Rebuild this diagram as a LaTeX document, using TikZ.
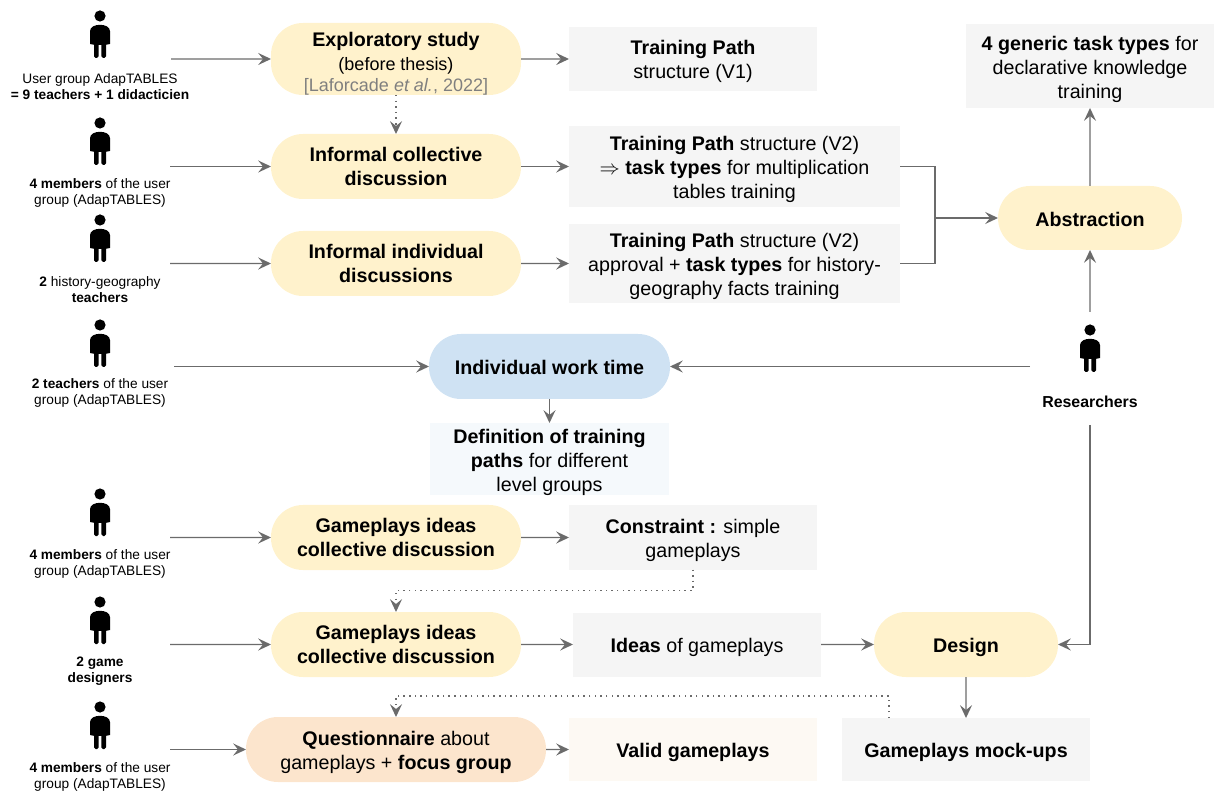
\documentclass[tikz,border=0pt]{standalone}
\usepackage{fontspec}
\setmainfont{Liberation Sans}
\usepackage{tikz}
\usetikzlibrary{arrows.meta, positioning, calc}
\definecolor{pillyellow}{HTML}{FFF2CC}
\definecolor{pillblue}{HTML}{CFE2F3}
\definecolor{pillorange}{HTML}{FCE5CD}
\definecolor{boxgrey}{HTML}{F5F5F5}
\definecolor{boxblue}{HTML}{F5F9FC}
\definecolor{boxorange}{HTML}{FDF9F3}
\definecolor{linegrey}{HTML}{6B6B6B}
\definecolor{citegrey}{HTML}{7F7F7F}
\newcommand{\lift}{\rule{0pt}{14.7pt}}
\tikzstyle{pill} = [minimum width=6.25cm, minimum height=1.625cm, anchor=south west, align=center, rounded corners=0.8cm, fill=pillyellow, inner xsep=0pt, inner ysep=-12pt, outer sep=0pt, font=\fontsize{14}{17}\selectfont, execute at begin node={\rule{0pt}{11.6pt}}]
\tikzstyle{result} = [minimum width=6.2cm, minimum height=1.6cm, anchor=south west, align=center, fill=boxgrey, inner xsep=0pt, inner ysep=-12pt, outer sep=0pt, font=\fontsize{14}{17}\selectfont, execute at begin node={\rule{0pt}{14.4pt}}]
\tikzstyle{who} = [align=center, inner sep=0pt, outer sep=0pt, font=\fontsize{9.75}{11.4}\selectfont]
\tikzstyle{link} = [-{Stealth[length=3.2mm, width=3mm, inset=1.2mm]}, linegrey]
\tikzstyle{hint} = [link, dash pattern=on 1pt off 3pt]
\tikzset{pics/person/.style={code={
	\fill (0, 0) circle (0.14);
	\fill (-0.25, -0.7) -- (-0.25, -0.38) .. controls (-0.25, -0.27) and (-0.12, -0.22) .. (0, -0.22) .. controls (0.12, -0.22) and (0.25, -0.27) .. (0.25, -0.38) -- (0.25, -0.7) -- (0.15, -0.72) -- (-0.15, -0.72) -- cycle;
	\fill[rounded corners=0.04cm] (-0.15, -0.6) rectangle (-0.035, -1.05);
	\fill[rounded corners=0.04cm] (0.035, -0.6) rectangle (0.15, -1.05);
}}}

\begin{document}
\begin{tikzpicture}[line width=1pt]
		\useasboundingbox (0, 0) rectangle (30.35, 19.8);

		\coordinate (explor)  at (6.775,  17.425);
		\coordinate (inform1) at (6.775,  14.825);
		\coordinate (inform2) at (6.775,  12.4);
		\coordinate (worktim) at (10.725, 9.825);
		\coordinate (gamepl1) at (6.775,  5.55);
		\coordinate (gamepl2) at (6.775,  2.875);
		\coordinate (questio) at (6.15,   0.25);
		\coordinate (abstrac) at (24.95,  13.55);
		\coordinate (designs) at (21.85,  2.875);
		\coordinate (path1)   at (14.225, 17.525);
		\coordinate (path2)   at (14.225, 14.625);
		\coordinate (path3)   at (14.225, 12.225);
		\coordinate (generic) at (24.15,  17.1);
		\coordinate (definit) at (10.75,  7.425);
		\coordinate (constra) at (14.225, 5.5625);
		\coordinate (ideas)   at (14.325, 2.8875);
		\coordinate (valid)   at (14.225, 0.275);
		\coordinate (mockups) at (21.05,  0.275);

		\coordinate (users1)  at (4.275,  18.325);
		\coordinate (users2)  at (4.25,   15.6375);
		\coordinate (users3)  at (4.25,   13.2125);
		\coordinate (users4)  at (4.35,   10.6375);
		\coordinate (users5)  at (4.25,   6.3625);
		\coordinate (users6)  at (4.25,   3.6875);
		\coordinate (users7)  at (4.25,   1.0625);
		\coordinate (resup)   at (27.25,  12);
		\coordinate (resleft) at (25.75,  10.6375);
		\coordinate (resdown) at (27.25,  9.175);
		\coordinate (merge)   at (23.375, 14.35);

		\pic (P1) at (2.5, 19.4) {person};
		\pic (P2) at (2.5, 16.725) {person};
		\pic (P3) at (2.5, 14.3) {person};
		\pic (P4) at (2.5, 11.675) {person};
		\pic (P5) at (2.5, 7.45) {person};
		\pic (P6) at (2.5, 4.75) {person};
		\pic (P7) at (2.5, 2.125) {person};
		\pic (P8) at (27.25, 11.55) {person};

		\node[who] (WH1) at (2.5, 17.635) {User group AdapTABLES\\\textbf{= 9 teachers + 1 didacticien}};
		\node[who] (WH2) at (2.5, 14.975) {\textbf{4 members} of the user\\group (AdapTABLES)};
		\node[who] (WH3) at (2.5, 12.56) {\textbf{2} history-geography\\\textbf{teachers}};
		\node[who] (WH4) at (2.5, 9.97) {\textbf{2 teachers} of the user\\group (AdapTABLES)};
		\node[who] (WH5) at (2.5, 5.7) {\textbf{4 members} of the user\\group (AdapTABLES)};
		\node[who] (WH6) at (2.5, 3.025) {\textbf{2 game}\\\textbf{designers}};
		\node[who] (WH7) at (2.5, 0.37) {\textbf{4 members} of the user\\group (AdapTABLES)};
		\node[who, font=\fontsize{11.3}{13}\selectfont] (WH8) at (27.25, 9.75) {\textbf{Researchers}};

		\node[pill, minimum height=1.8cm] (EXP) at (explor) {\rule{0pt}{17pt}\textbf{Exploratory study}\\\fontsize{12.8}{17}\selectfont(before thesis)\\[-2pt]\fontsize{12.8}{17}\selectfont\textcolor{citegrey}{[Laforcade \textit{et al.}, 2022]}};
		\node[pill] (IN1) at (inform1) {\textbf{Informal collective}\\\textbf{discussion}};
		\node[pill] (IN2) at (inform2) {\textbf{Informal individual}\\\textbf{discussions}};
		\node[pill, minimum width=6.025cm, fill=pillblue] (WRK) at (worktim) {\textbf{Individual work time}};
		\node[pill] (GA1) at (gamepl1) {\textbf{Gameplays ideas}\\\textbf{collective discussion}};
		\node[pill] (GA2) at (gamepl2) {\textbf{Gameplays ideas}\\\textbf{collective discussion}};
		\node[pill, minimum width=7.5cm, fill=pillorange] (QST) at (questio) {\rule{0pt}{14pt}\textbf{Questionnaire} about\\gameplays + \textbf{focus group}};
		\node[pill, minimum width=4.6cm, minimum height=1.6cm] (ABS) at (abstrac) {\textbf{Abstraction}};
		\node[pill, minimum width=4.6cm] (DES) at (designs) {\rule{0pt}{14.4pt}\textbf{Design}};

		\node[result] (TP1) at (path1) {\rule{0pt}{13.3pt}\textbf{Training Path}\\structure (V1)};
		\node[result, minimum width=8.275cm, minimum height=2.025cm] (TP2) at (path2) {\lift\textbf{Training Path} structure (V2)\\$\Rightarrow$ \textbf{task types} for multiplication\\tables training};
		\node[result, minimum width=8.275cm, minimum height=1.975cm] (TP3) at (path3) {\lift\textbf{Training Path} structure (V2)\\approval + \textbf{task types} for history-\\geography facts training};
		\node[result, minimum height=2.1cm] (GEN) at (generic) {\lift\textbf{4 generic task types} for\\declarative knowledge\\training};
		\node[result, minimum width=5.975cm, minimum height=1.8cm, fill=boxblue] (DEF) at (definit) {\lift\textbf{Definition of training}\\\textbf{paths} for different\\level groups};
		\node[result] (CON) at (constra) {\lift\textbf{Constraint :} simple\\gameplays};
		\node[result] (IDE) at (ideas) {\textbf{Ideas} of gameplays};
		\node[result, minimum height=1.575cm, fill=boxorange] (VAL) at (valid) {\textbf{Valid gameplays}};
		\node[result, minimum height=1.575cm] (MCK) at (mockups) {\textbf{Gameplays mock-ups}};

		\draw[link] (users1) -- (EXP.west);
		\draw[link] (users2) -- (IN1.west);
		\draw[link] (users3) -- (IN2.west);
		\draw[link] (users4) -- (WRK.west);
		\draw[link] (users5) -- (GA1.west);
		\draw[link] (users6) -- (GA2.west);
		\draw[link] (users7) -- (QST.west);
		\draw[link] (EXP.east) -- (TP1.west);
		\draw[link] (IN1.east) -- (TP2.west);
		\draw[link] (IN2.east) -- (TP3.west);
		\draw[link] (GA1.east) -- (CON.west);
		\draw[link] (GA2.east) -- (IDE.west);
		\draw[link] (QST.east) -- (VAL.west);
		\draw[link] (IDE.east) -- (DES.west);
		\draw[link] (WRK.south) -- (DEF.north);
		\draw[link] (DES.south) -- (MCK.north);
		\draw[link] (ABS.north) -- (GEN.south);
		\draw[link] (resup) -- (ABS.south);
		\draw[link] (resleft) -- (WRK.east);
		\draw[link] (resdown) |- (DES.east);
		\draw[linegrey] (TP2.east) -| (merge);
		\draw[linegrey] (TP3.east) -| (merge);
		\draw[link] (merge) -- (ABS.west);
		\draw[hint] (EXP.south) -- (IN1.north);
		\draw[hint] (CON.south) -- ++(0, -0.525) -| (GA2.north);
		\draw[hint] ($(MCK.north west) + (1.175, 0)$) -- ++(0, 0.55) -| (QST.north);

	\end{tikzpicture}
\end{document}
